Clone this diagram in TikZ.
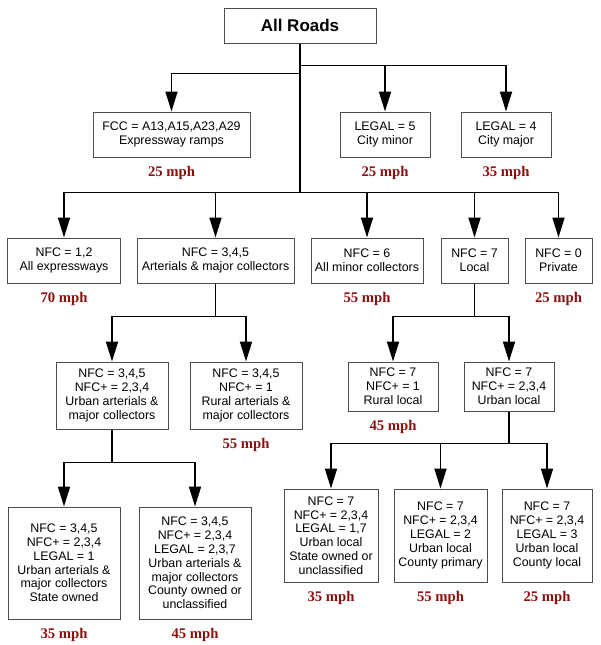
\documentclass[tikz,border=0pt]{standalone}
\usepackage{fontspec}
\setmainfont{Liberation Sans}
\newfontfamily\speedfont{Liberation Serif}
\usetikzlibrary{arrows.meta, positioning}
\definecolor{SpeedRed}{HTML}{8B0F0F}
\definecolor{BoxGray}{HTML}{4D4D4D}

\begin{document}
\begin{tikzpicture}[
        % Estilo de la raiz
        rootbox/.style={
                rectangle,
                draw=BoxGray,
                line width=1pt,
                fill=white,
                minimum width=152pt,
                minimum height=35pt,
                font=\fontsize{17}{20}\selectfont\bfseries
            },
        % Estilo de las cajas
        roadbox/.style={
                rectangle,
                draw=BoxGray,
                line width=1pt,
                fill=white,
                align=center,
                inner sep=3pt,
                font=\fontsize{12.4}{13.8}\selectfont
            },
        % Etiquetas de velocidad
        speed/.style={
                inner sep=0pt,
                text=SpeedRed,
                font=\speedfont\fontsize{14.7}{16}\selectfont\bfseries
            },
        % Lineas y flechas
        link/.style={
                line width=1.8pt,
                color=black
            },
        arrow/.style={
                link,
                -{Triangle[length=20pt,width=12pt]}
            }
    ]

    \useasboundingbox (0pt,0pt) rectangle (600pt,-645pt);

    % Raiz
    \node[rootbox] (root) at (300pt,-25.5pt) {All Roads};

    % Primer nivel
    \node[roadbox, minimum width=157pt, minimum height=45pt, below=68pt of root, xshift=-128.5pt] (fcc) {FCC = A13,A15,A23,A29\\Expressway ramps};
    \node[roadbox, minimum width=90pt, minimum height=45pt, below=68pt of root, xshift=85pt] (legfive) {LEGAL = 5\\City minor};
    \node[roadbox, minimum width=90pt, minimum height=45pt, below=68pt of root, xshift=206pt] (legfour) {LEGAL = 4\\City major};

    % Segundo nivel
    \node[roadbox, minimum width=113pt, minimum height=45pt, below=194pt of root, xshift=-236pt] (nfcexp) {NFC = 1,2\\All expressways};
    \node[roadbox, minimum width=157pt, minimum height=45pt, below=194pt of root, xshift=-84.5pt] (nfcart) {NFC = 3,4,5\\Arterials \& major collectors};
    \node[roadbox, minimum width=112pt, minimum height=45pt, below=194pt of root, xshift=67pt] (nfcmin) {NFC = 6\\All minor collectors};
    \node[roadbox, minimum width=67pt, minimum height=45pt, below=194pt of root, xshift=174.5pt] (nfcloc) {NFC = 7\\Local};
    \node[roadbox, minimum width=67pt, minimum height=45pt, below=194pt of root, xshift=258.5pt] (nfcpriv) {NFC = 0\\Private};

    % Tercer nivel
    \node[roadbox, minimum width=112pt, minimum height=67pt, below=78pt of nfcart, xshift=-103.5pt] (urbart) {NFC = 3,4,5\\NFC+ = 2,3,4\\Urban arterials \&\\major collectors};
    \node[roadbox, minimum width=112pt, minimum height=67pt, below=78pt of nfcart, xshift=30.5pt] (rurart) {NFC = 3,4,5\\NFC+ = 1\\Rural arterials \&\\major collectors};
    \node[roadbox, minimum width=90pt, minimum height=49pt, below=78pt of nfcloc, xshift=-81.5pt] (rurloc) {NFC = 7\\NFC+ = 1\\Rural local};
    \node[roadbox, minimum width=90pt, minimum height=49pt, below=78pt of nfcloc, xshift=34.5pt] (urbloc) {NFC = 7\\NFC+ = 2,3,4\\Urban local};

    % Cuarto nivel
    \node[roadbox, minimum width=112pt, minimum height=112pt, below=77pt of urbart, xshift=-48pt] (artstate) {NFC = 3,4,5\\NFC+ = 2,3,4\\LEGAL = 1\\Urban arterials \&\\major collectors\\State owned};
    \node[roadbox, minimum width=112pt, minimum height=112pt, below=77pt of urbart, xshift=83pt] (artcounty) {NFC = 3,4,5\\NFC+ = 2,3,4\\LEGAL = 2,3,7\\Urban arterials \&\\major collectors\\County owned or\\unclassified};
    \node[roadbox, minimum width=94pt, minimum height=93pt, below=77pt of urbloc, xshift=-178pt] (locstate) {NFC = 7\\NFC+ = 2,3,4\\LEGAL = 1,7\\Urban local\\State owned or\\unclassified};
    \node[roadbox, minimum width=93pt, minimum height=93pt, below=77pt of urbloc, xshift=-68.5pt] (locprim) {NFC = 7\\NFC+ = 2,3,4\\LEGAL = 2\\Urban local\\County primary};
    \node[roadbox, minimum width=90pt, minimum height=93pt, below=77pt of urbloc, xshift=38pt] (loccounty) {NFC = 7\\NFC+ = 2,3,4\\LEGAL = 3\\Urban local\\County local};

    % Velocidades
    \node[speed, below=8.5pt of fcc] (sfcc) {25 mph};
    \node[speed, below=8.5pt of legfive] (slegfive) {25 mph};
    \node[speed, below=8.5pt of legfour] (slegfour) {35 mph};
    \node[speed, below=9pt of nfcexp] (snfcexp) {70 mph};
    \node[speed, below=9pt of nfcmin] (snfcmin) {55 mph};
    \node[speed, below=9pt of nfcpriv] (snfcpriv) {25 mph};
    \node[speed, below=9pt of rurart] (srurart) {55 mph};
    \node[speed, below=8.5pt of rurloc] (srurloc) {45 mph};
    \node[speed, below=9pt of artstate] (sartstate) {35 mph};
    \node[speed, below=9pt of artcounty] (sartcounty) {45 mph};
    \node[speed, below=8.5pt of locstate] (slocstate) {35 mph};
    \node[speed, below=8.5pt of locprim] (slocprim) {55 mph};
    \node[speed, below=8.5pt of loccounty] (sloccounty) {25 mph};

    % Puntos de union
    \coordinate (jleft) at ([yshift=-30pt]root.south);
    \coordinate (jright) at ([yshift=-22pt]root.south);
    \coordinate (jmain) at ([yshift=-149pt]root.south);
    \coordinate (jart) at ([yshift=-33pt]nfcart.south);
    \coordinate (jloc) at ([yshift=-33pt]nfcloc.south);
    \coordinate (jurbart) at ([yshift=-33pt]urbart.south);
    \coordinate (jurbloc) at ([yshift=-32pt]urbloc.south);

    % Flechas
    \draw[link] (root.south) -- (jmain);
    \draw[arrow] (jleft) -| (fcc.north);
    \draw[arrow] (jright) -| (legfive.north);
    \draw[arrow] (jright) -| (legfour.north);
    \foreach \n in {nfcexp, nfcart, nfcmin, nfcloc, nfcpriv}
        \draw[arrow] (jmain) -| (\n.north);

    \draw[link] (nfcart.south) -- (jart);
    \draw[arrow] (jart) -| (urbart.north);
    \draw[arrow] (jart) -| (rurart.north);

    \draw[link] (nfcloc.south) -- (jloc);
    \draw[arrow] (jloc) -| (rurloc.north);
    \draw[arrow] (jloc) -| (urbloc.north);

    \draw[link] (urbart.south) -- (jurbart);
    \draw[arrow] (jurbart) -| (artstate.north);
    \draw[arrow] (jurbart) -| (artcounty.north);

    \draw[link] (urbloc.south) -- (jurbloc);
    \foreach \n in {locstate, locprim, loccounty}
        \draw[arrow] (jurbloc) -| (\n.north);

\end{tikzpicture}
\end{document}
